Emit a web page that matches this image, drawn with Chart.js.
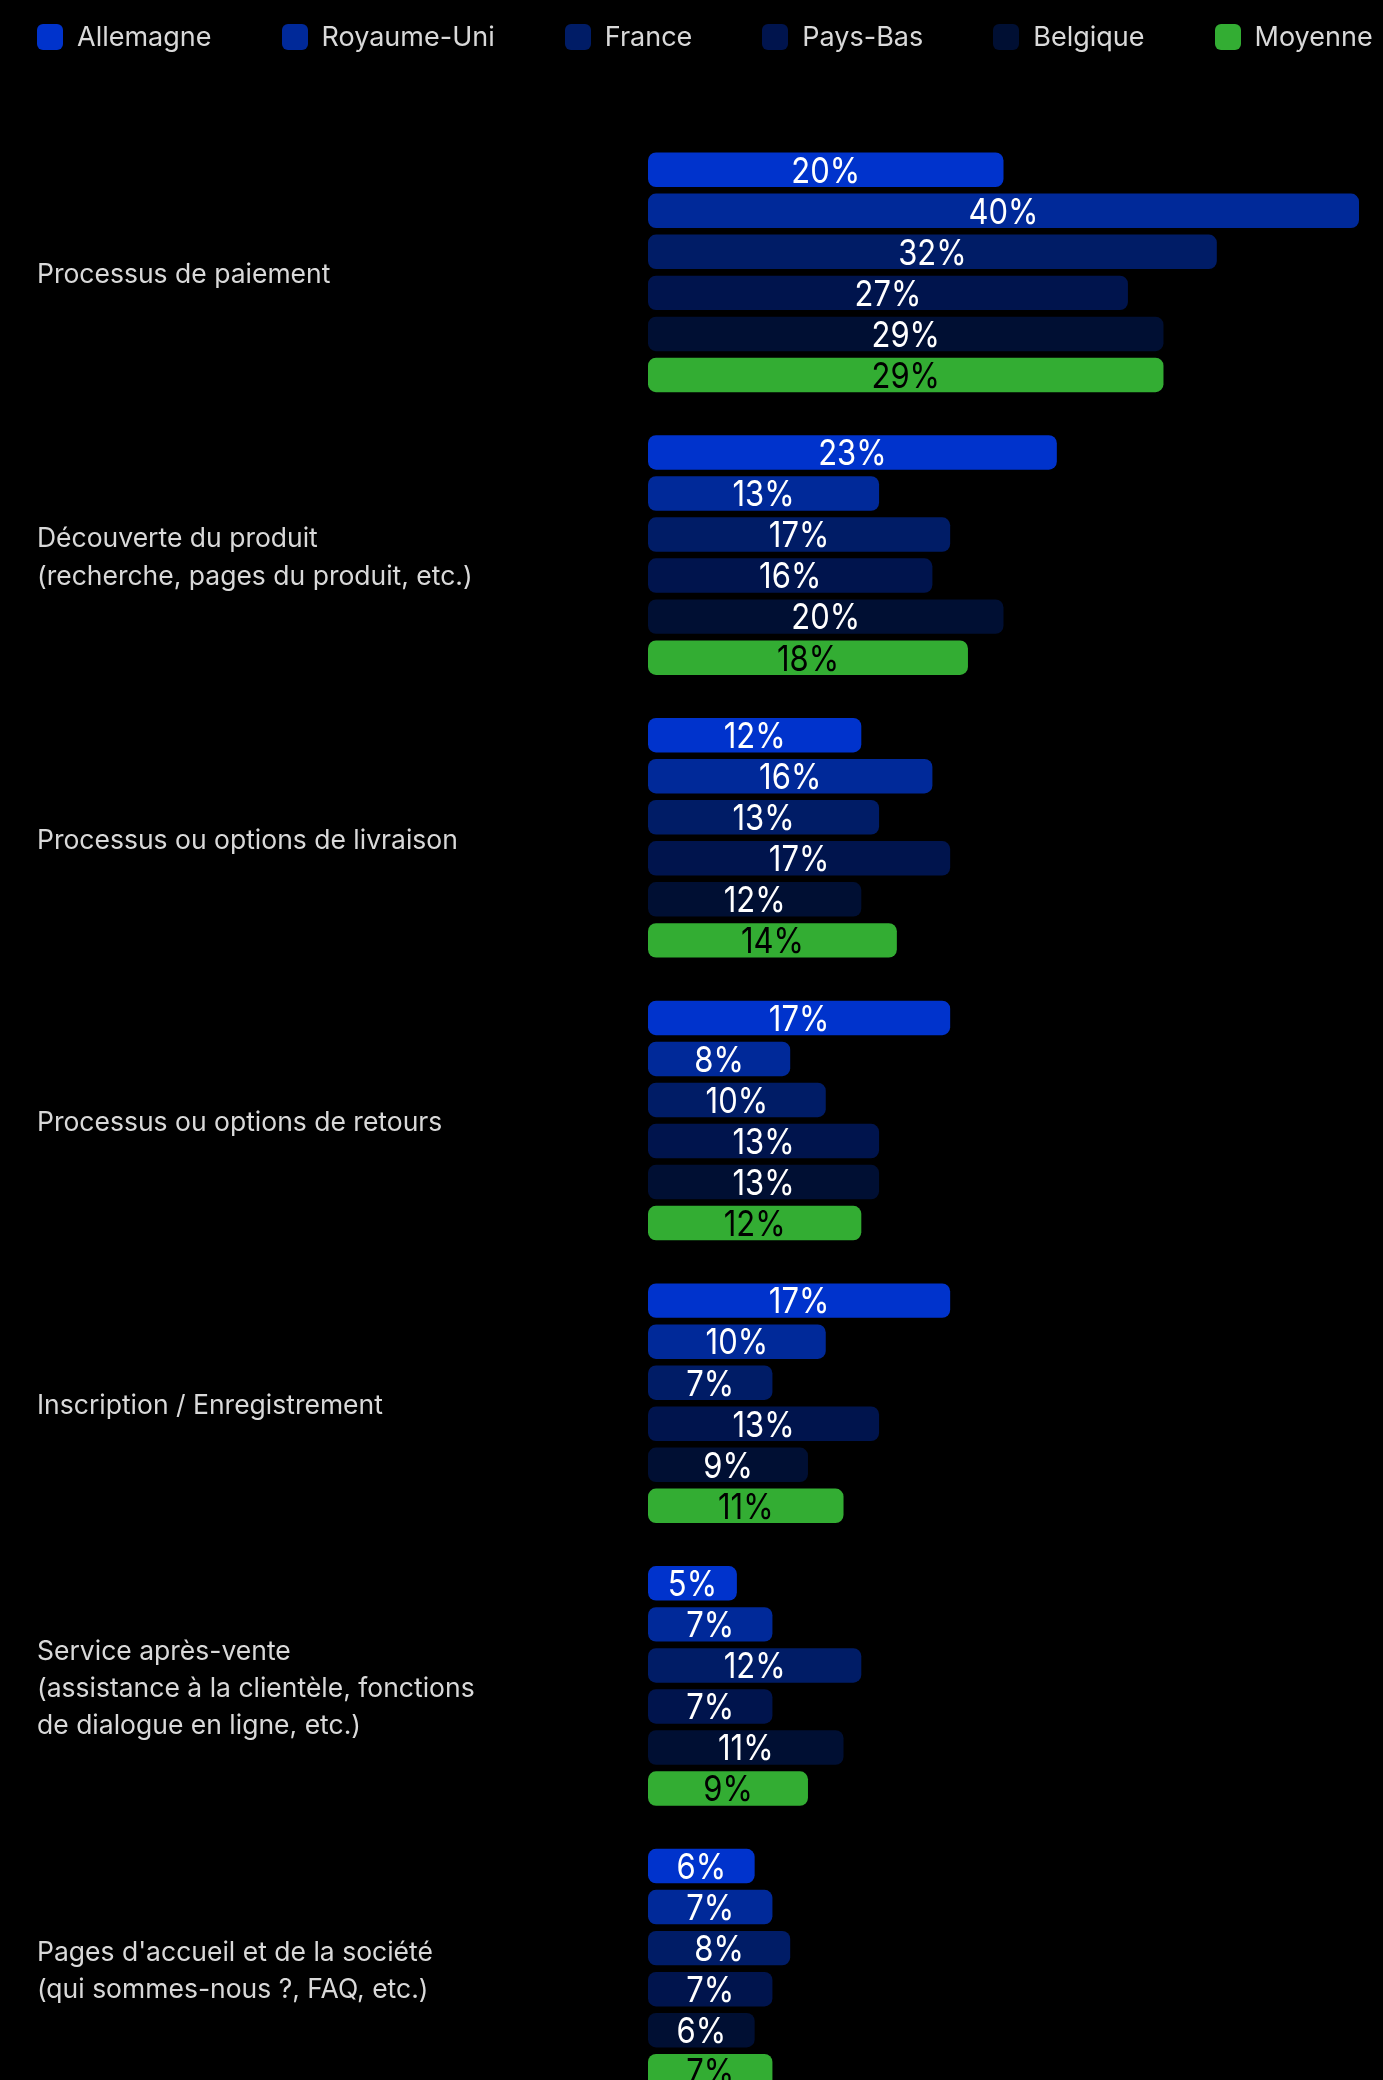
<!DOCTYPE html>
<html lang="fr">
<head>
<meta charset="utf-8">
<title>Points de friction</title>
<script src="https://cdn.jsdelivr.net/npm/chart.js@4.4.1/dist/chart.umd.min.js"></script>
<style>
  html, body { margin: 0; padding: 0; background: #000; overflow: hidden; }
  body { width: 1383px; height: 2080px; position: relative; font-family: Inter, 'Noto Sans', sans-serif; }
  #legend { position: absolute; top: 24px; left: 37px; display: flex; gap: 70px; z-index: 2; white-space: nowrap; }
  .lg-item { display: flex; flex-shrink: 0; align-items: center; color: #d9d9d9; font-size: 27px; line-height: 26px; }
  .lg-box { width: 26px; height: 26px; border-radius: 6px; margin-right: 14px; flex-shrink: 0; }
  #wrap { position: absolute; top: 0; left: 0; width: 1383px; height: 2110px; }
</style>
</head>
<body>
<div id="legend"></div>
<div id="wrap"><canvas id="frictionChart"></canvas></div>
<script>
// ── DATA ─────────────────────────────────────────────────────
const CATEGORIES = [
  'Processus de paiement',
  ['Découverte du produit', '(recherche, pages du produit, etc.)'],
  'Processus ou options de livraison',
  'Processus ou options de retours',
  'Inscription / Enregistrement',
  ['Service après-vente', '(assistance à la clientèle, fonctions', 'de dialogue en ligne, etc.)'],
  ["Pages d'accueil et de la société", '(qui sommes-nous ?, FAQ, etc.)']
];
const SERIES      = ['Allemagne', 'Royaume-Uni', 'France', 'Pays-Bas', 'Belgique', 'Moyenne'];
const ALLEMAGNE   = [20, 23, 12, 17, 17, 5, 6];
const ROYAUME_UNI = [40, 13, 16, 8, 10, 7, 7];
const FRANCE      = [32, 17, 13, 10, 7, 12, 8];
const PAYS_BAS    = [27, 16, 17, 13, 13, 7, 7];
const BELGIQUE    = [29, 20, 12, 13, 9, 11, 6];
const MOYENNE     = [29, 18, 14, 12, 11, 9, 7];

const COLORS      = ['#0033cc', '#002999', '#001c66', '#00144d', '#000f33', '#33ad33'];
const TEXT_COLORS = ['#fff', '#fff', '#fff', '#fff', '#fff', '#000'];
const LABEL_GRAY  = '#d9d9d9';
const FONT        = "Inter, 'Noto Sans', sans-serif";
const TICK_SIZE   = 26.5;
const VALUE_SIZE  = 36;
const VALUE_SQUEEZE = 0.86; // narrow the value figures a little
const AXIS_WIDTH  = 611;   // left edge of labels to start of bars

// ── value labels drawn in the middle of each bar ─────────────
const barValues = {
  id: 'barValues',
  afterDatasetsDraw(chart) {
    const ctx = chart.ctx;
    chart.data.datasets.forEach((ds, i) => {
      const meta = chart.getDatasetMeta(i);
      meta.data.forEach((bar, j) => {
        ctx.save();
        ctx.translate((bar.x + bar.base) / 2, bar.y + 2);
        ctx.scale(VALUE_SQUEEZE, 1);
        ctx.font = `${VALUE_SIZE}px ${FONT}`;
        ctx.textAlign = 'center';
        ctx.textBaseline = 'middle';
        ctx.fillStyle = TEXT_COLORS[i];
        ctx.fillText(ds.data[j] + '%', 0, 0);
        ctx.restore();
      });
    });
  }
};

const seriesData = [ALLEMAGNE, ROYAUME_UNI, FRANCE, PAYS_BAS, BELGIQUE, MOYENNE];

const chart = new Chart(document.getElementById('frictionChart'), {
  type: 'bar',
  data: {
    labels: CATEGORIES,
    datasets: SERIES.map((name, i) => ({
      label: name,
      data: seriesData[i],
      backgroundColor: COLORS[i],
      borderRadius: 8,
      borderSkipped: false,
      categoryPercentage: 0.871,
      barPercentage: 0.84,
    }))
  },
  options: {
    indexAxis: 'y',
    responsive: true,
    maintainAspectRatio: false,
    animation: false,
    layout: { padding: { top: 131, left: 37, right: 24, bottom: 0 } },
    plugins: {
      legend: { display: false },
      tooltip: { enabled: false }
    },
    scales: {
      x: {
        display: false,
        min: 0,
        max: 40,
      },
      y: {
        grid: { display: false, drawTicks: false },
        border: { display: false },
        // fixed label column, no extra padding above/below the bars
        afterFit(scale) {
          scale.width = AXIS_WIDTH;
          scale.paddingTop = 0;
          scale.paddingBottom = 0;
        },
        ticks: {
          crossAlign: 'far',
          padding: 0,
          labelOffset: 3,
          color: LABEL_GRAY,
          font: { family: FONT, size: TICK_SIZE, lineHeight: 1.4 },
        }
      }
    }
  },
  plugins: [barValues]
});

// labels are placed at right - widest with crossAlign 'far'; shift them to the left edge
chart.options.scales.y.ticks.padding = AXIS_WIDTH - chart.scales.y._getLabelSizes().widest.width;
chart.update();

// ── HTML legend built from the datasets ──────────────────────
const legendEl = document.getElementById('legend');
chart.data.datasets.forEach(ds => {
  const item = document.createElement('div');
  item.className = 'lg-item';
  item.innerHTML = `<span class="lg-box" style="background:${ds.backgroundColor}"></span>${ds.label}`;
  legendEl.appendChild(item);
});
</script>
</body>
</html>
